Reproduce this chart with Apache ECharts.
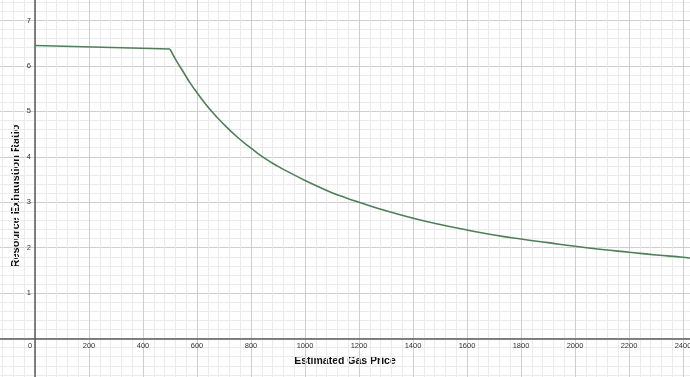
<!DOCTYPE html>
<html>
<head>
<meta charset="utf-8">
<script src="https://cdn.jsdelivr.net/npm/echarts@6/dist/echarts.min.js"></script>
<style>
  html, body { margin: 0; padding: 0; background: #fff; width: 690px; height: 377px; overflow: hidden; position: relative; }
  /* plot runs past the window edges, like a panned graph */
  #chart { position: absolute; left: -19px; top: -25px; width: 756px; height: 409px; }
</style>
</head>
<body>
<div id="chart"></div>
<script>
// values
const gasPrice = [0, 500, 525, 550, 575, 600, 650, 700, 750, 800, 850, 900, 950, 1000, 1050, 1100,
  1150, 1200, 1300, 1400, 1500, 1600, 1700, 1800, 1900, 2000, 2100, 2200, 2300, 2400, 2450];
const exhaustionRatio = [6.45, 6.37, 6.10, 5.86, 5.62, 5.41, 5.03, 4.71, 4.43, 4.19, 3.97, 3.79, 3.63,
  3.48, 3.34, 3.21, 3.10, 3.00, 2.81, 2.65, 2.51, 2.39, 2.28, 2.19, 2.11, 2.03, 1.96, 1.90, 1.84, 1.79, 1.76];

const xTitle = "Estimated Gas Price";
const yTitle = "Resource Exhaustion Ratio";

const chart = echarts.init(document.getElementById("chart"));

const font = "Liberation Sans, Arial, sans-serif";
const labelStyle = { color: "#333", fontSize: 7.5, fontFamily: font };

const points = gasPrice.map((x, i) => [x, exhaustionRatio[i]]);

chart.setOption({
  animation: false,
  grid: { left: 0, right: 0, top: 0, bottom: 0, containLabel: false, outerBoundsMode: "none" },
  xAxis: {
    type: "value",
    min: -200,
    max: 2600,
    interval: 200,
    offset: -45.4, // put axis on y = 0
    axisLine: { onZero: false, lineStyle: { color: "#5c5c5c", width: 1.5 } },
    axisTick: { show: false },
    minorTick: { show: false, splitNumber: 5 },
    splitLine: { show: true, lineStyle: { color: "#cfcfcf", width: 1 } },
    minorSplitLine: { show: true, lineStyle: { color: "#ebebeb", width: 1 } },
    axisLabel: Object.assign({}, labelStyle, {
      margin: 3,
      formatter: v => (v < 0 ? "" : v === 0 ? "{o|0}" : String(v)),
      rich: { o: { padding: [0, 10, 0, 0], fontSize: 7.5, color: "#333", fontFamily: font } }
    })
  },
  yAxis: {
    type: "value",
    min: -1,
    max: 8,
    interval: 1,
    offset: -54, // put axis on x = 0
    axisLine: { onZero: false, lineStyle: { color: "#5c5c5c", width: 1.5 } },
    axisTick: { show: false },
    minorTick: { show: false, splitNumber: 5 },
    splitLine: { show: true, lineStyle: { color: "#cfcfcf", width: 1 } },
    minorSplitLine: { show: true, lineStyle: { color: "#ebebeb", width: 1 } },
    axisLabel: Object.assign({}, labelStyle, {
      margin: 4,
      formatter: v => (v <= 0 ? "" : String(v))
    })
  },
  graphic: [
    {
      type: "text",
      x: 364,
      y: 386,
      style: {
        text: xTitle,
        fontSize: 10.5,
        fontWeight: "bold",
        fontFamily: font,
        fill: "#111",
        align: "center",
        verticalAlign: "middle"
      }
    },
    {
      type: "text",
      x: 35,
      y: 221,
      rotation: Math.PI / 2,
      style: {
        text: yTitle,
        fontSize: 11,
        fontWeight: "bold",
        fontFamily: font,
        fill: "#111",
        align: "center",
        verticalAlign: "middle"
      }
    }
  ],
  series: [
    {
      type: "line",
      data: points.slice(0, 2),
      symbol: "none",
      lineStyle: { color: "#4e7f58", width: 1.6 },
      silent: true
    },
    {
      type: "line",
      data: points.slice(1),
      symbol: "none",
      smooth: 0.5,
      lineStyle: { color: "#4e7f58", width: 1.6 },
      silent: true
    }
  ]
});
</script>
</body>
</html>
